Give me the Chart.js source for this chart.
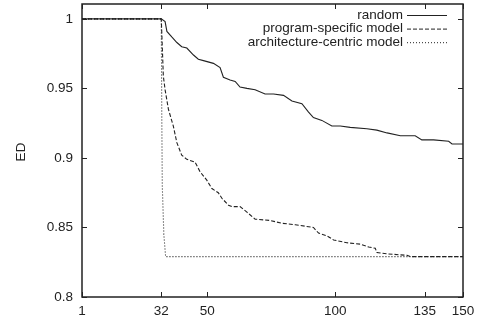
<!DOCTYPE html>
<html>
<head>
<meta charset="utf-8">
<script src="https://cdn.jsdelivr.net/npm/chart.js@4/dist/chart.umd.min.js"></script>
<style>
  html, body { margin: 0; padding: 0; background: #fff; }
  #wrap { width: 481px; height: 322px; }
</style>
</head>
<body>
<div id="wrap"><canvas id="chart" width="481" height="322"></canvas></div>
<script>
// values
const randomX = [1, 32, 33.5, 34.2, 36.1, 38.1, 40, 42, 44.6, 46.5, 48.5, 52.4, 55, 56.3, 58.9, 60.9, 62.8,
  65.5, 68.7, 72.6, 75.9, 79.8, 83.1, 87, 89.6, 91.5, 94.8, 98.7, 102, 105.9, 112.4, 116.3, 120.3,
  125.5, 131.3, 133.9, 138.5, 144.4, 145.7, 150];
const randomY = [1, 1, 0.998, 0.991, 0.987, 0.983, 0.98, 0.979, 0.974, 0.971, 0.97, 0.968, 0.965, 0.958,
  0.956, 0.955, 0.951, 0.95, 0.949, 0.946, 0.946, 0.945, 0.941, 0.939, 0.933, 0.929, 0.927, 0.923,
  0.923, 0.922, 0.921, 0.92, 0.918, 0.916, 0.916, 0.913, 0.913, 0.912, 0.91, 0.91];

const progX = [1, 32, 32.3, 32.8, 33.5, 34.8, 36.7, 38.1, 40, 42, 45.2, 47.2, 49.8, 51.8, 54.3, 55.7, 58.3,
  59.7, 62.8, 65.5, 68.7, 74.6, 79.2, 84.4, 91.5, 93.5, 96.8, 99.4, 104.6, 109.8, 113.1, 115.7, 116.3,
  120.3, 128.1, 129.4, 150];
const progY = [1, 1, 0.985, 0.959, 0.949, 0.935, 0.923, 0.911, 0.902, 0.899, 0.897, 0.89, 0.884, 0.878,
  0.875, 0.871, 0.866, 0.865, 0.865, 0.861, 0.856, 0.855, 0.853, 0.852, 0.85, 0.846, 0.844, 0.841,
  0.839, 0.838, 0.836, 0.835, 0.832, 0.831, 0.83, 0.829, 0.829];

const archX = [1, 32, 32.2, 32.4, 33, 33.7, 150];
const archY = [1, 1, 0.93, 0.88, 0.845, 0.829, 0.829];

const xTicks = [1, 32, 50, 100, 135, 150];
const yTicks = [0.8, 0.85, 0.9, 0.95, 1];

const seriesNames = ["random", "program-specific model", "architecture-centric model"];
const seriesDash = [[], [4, 2], [1, 2]];

const FONT = "Liberation Sans, Arial, Helvetica, sans-serif";
const INK = "#222";
const FSIZE = 13.5;

const toPoints = (xs, ys) => xs.map((x, i) => ({ x, y: ys[i] }));

// gnuplot-like frame, inward ticks on all sides, legend and y title
const framePlugin = {
  id: "frame",
  afterDraw(chart) {
    const { ctx, chartArea: a, scales } = chart;
    ctx.save();
    ctx.strokeStyle = INK;
    ctx.lineWidth = 1.5;
    ctx.setLineDash([]);
    ctx.strokeRect(a.left, a.top, a.right - a.left, a.bottom - a.top);

    ctx.lineWidth = 1;
    const len = 5;
    ctx.beginPath();
    xTicks.forEach((v) => {
      const px = Math.round(scales.x.getPixelForValue(v)) + 0.5;
      ctx.moveTo(px, a.bottom); ctx.lineTo(px, a.bottom - len);
      ctx.moveTo(px, a.top); ctx.lineTo(px, a.top + len);
    });
    yTicks.forEach((v) => {
      const py = Math.round(scales.y.getPixelForValue(v)) + 0.5;
      ctx.moveTo(a.left, py); ctx.lineTo(a.left + len, py);
      ctx.moveTo(a.right, py); ctx.lineTo(a.right - len, py);
    });
    ctx.stroke();

    // legend: text right-aligned, sample line to the right
    ctx.font = FSIZE + "px " + FONT;
    ctx.fillStyle = INK;
    ctx.textAlign = "right";
    ctx.textBaseline = "middle";
    seriesNames.forEach((name, i) => {
      const y = 15 + i * 13.6;
      ctx.fillText(name, 403, y);
      ctx.beginPath();
      ctx.setLineDash(seriesDash[i]);
      ctx.moveTo(407, y + 0.5);
      ctx.lineTo(447, y + 0.5);
      ctx.stroke();
    });
    ctx.setLineDash([]);

    // y axis title
    ctx.translate(21, 152);
    ctx.rotate(-Math.PI / 2);
    ctx.textAlign = "center";
    ctx.fillText("ED", 0, 0);
    ctx.restore();
  },
};

const lineStyle = (dash) => ({
  borderColor: INK,
  borderWidth: 1.1,
  borderDash: dash,
  pointRadius: 0,
  fill: false,
  tension: 0,
});

new Chart(document.getElementById("chart"), {
  type: "line",
  data: {
    datasets: [
      { label: seriesNames[0], data: toPoints(randomX, randomY), ...lineStyle(seriesDash[0]) },
      { label: seriesNames[1], data: toPoints(progX, progY), ...lineStyle(seriesDash[1]) },
      { label: seriesNames[2], data: toPoints(archX, archY), ...lineStyle(seriesDash[2]) },
    ],
  },
  options: {
    responsive: false,
    animation: false,
    layout: { padding: { left: 0, right: 18, top: 4, bottom: 0 } },
    scales: {
      x: {
        type: "linear",
        min: 1,
        max: 150,
        afterBuildTicks: (scale) => { scale.ticks = xTicks.map((value) => ({ value })); },
        afterFit: (scale) => {
          scale.height = 25;
          scale.paddingLeft = 0;
          scale.paddingRight = 0;
        },
        grid: { display: false, drawTicks: false },
        border: { display: false },
        ticks: {
          color: INK,
          font: { family: FONT, size: FSIZE },
          padding: 6,
          maxRotation: 0,
          autoSkip: false,
          callback: (v) => String(v),
        },
      },
      y: {
        type: "linear",
        min: 0.8,
        max: 1.0107,
        afterBuildTicks: (scale) => { scale.ticks = yTicks.map((value) => ({ value })); },
        afterFit: (scale) => {
          scale.width = 82;
          scale.paddingTop = 0;
          scale.paddingBottom = 0;
        },
        grid: { display: false, drawTicks: false },
        border: { display: false },
        ticks: {
          color: INK,
          font: { family: FONT, size: FSIZE },
          padding: 9,
          callback: (v) => String(Math.round(v * 100) / 100),
        },
      },
    },
    plugins: {
      legend: { display: false },
      tooltip: { enabled: false },
    },
  },
  plugins: [framePlugin],
});
</script>
</body>
</html>
